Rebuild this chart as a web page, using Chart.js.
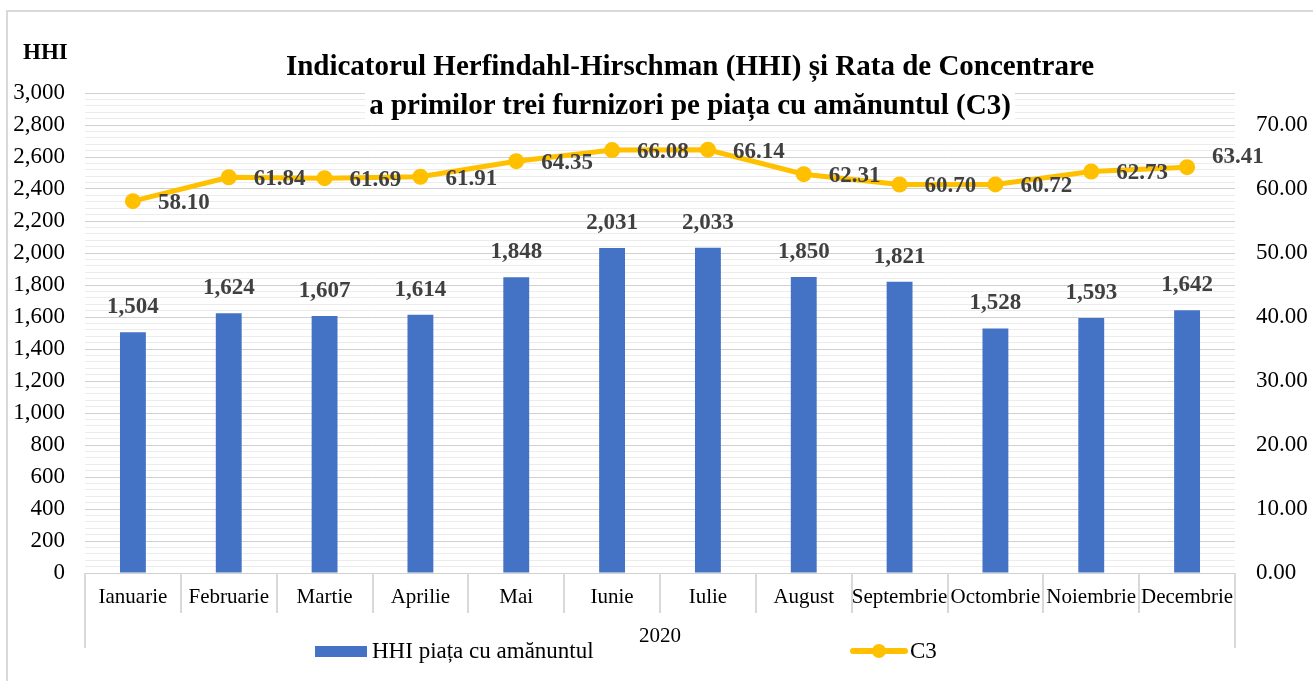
<!DOCTYPE html>
<html>
<head>
<meta charset="utf-8">
<script src="https://cdn.jsdelivr.net/npm/chart.js@4"></script>
<style>
    body { margin: 0; background: #fff; overflow: hidden; font-family: 'Liberation Serif', 'Times New Roman', serif; }
    #wrap { position: relative; width: 1313px; height: 681px; }
    #frame { position: absolute; left: 6px; top: 10px; width: 1320px; height: 700px; border: 2px solid #d9d9d9; box-sizing: border-box; pointer-events: none; }
    #titlu { position: absolute; left: 190px; width: 1000px; top: 46px; text-align: center; font-weight: bold; font-size: 29px; line-height: 39px; color: #000; }
    #titlu span { background: #fff; padding: 0 4px; }
    #hhi { position: absolute; left: 23px; top: 39px; font-weight: bold; font-size: 23px; }
    .leg { position: absolute; top: 637px; font-size: 23px; line-height: 28px; display: flex; align-items: center; }
</style>
</head>
<body>
<div id="wrap">
    <canvas id="grafico-hhi" width="1313" height="681"></canvas>
    <div id="frame"></div>
    <div id="hhi">HHI</div>
    <div id="titlu"><span>Indicatorul Herfindahl-Hirschman (HHI) și Rata de Concentrare</span><br><span>a primilor trei furnizori pe piața cu amănuntul (C3)</span></div>
    <div class="leg" id="leg-bar" style="left:315px"></div>
    <div class="leg" id="leg-linie" style="left:850px"></div>
</div>
<script>
// DADOS DO GRÁFICO
const luni = ['Ianuarie', 'Februarie', 'Martie', 'Aprilie', 'Mai', 'Iunie', 'Iulie', 'August', 'Septembrie', 'Octombrie', 'Noiembrie', 'Decembrie'];
const valori_hhi = [1504, 1624, 1607, 1614, 1848, 2031, 2033, 1850, 1821, 1528, 1593, 1642];
const valori_c3 = [58.10, 61.84, 61.69, 61.91, 64.35, 66.08, 66.14, 62.31, 60.70, 60.72, 62.73, 63.41];
const eticheta_an = '2020';
const nume_hhi = 'HHI piața cu amănuntul';
const nume_c3 = 'C3';

const FONT = "'Liberation Serif', 'Times New Roman', serif";
const AZUL = '#4472C4';
const GALBEN = '#FFC000';

// ETICHETE DE VALORI
const pluginEtichete = {
    id: 'etichete',
    afterDatasetsDraw(chart) {
        const ctx = chart.ctx;
        ctx.save();
        ctx.font = 'bold 23px ' + FONT;
        ctx.fillStyle = '#404040';
        ctx.textBaseline = 'middle';

        let bare = chart.getDatasetMeta(1).data;
        ctx.textAlign = 'center';
        bare.forEach((b, i) => {
            ctx.fillText(valori_hhi[i].toLocaleString('en-US'), b.x, b.y - 25);
        });

        let puncte = chart.getDatasetMeta(0).data;
        ctx.textAlign = 'left';
        puncte.forEach((p, i) => {
            // ultima eticheta e ridicata putin, ca in original
            let dy = (i === puncte.length - 1) ? -10 : 2;
            ctx.fillText(valori_c3[i].toFixed(2), p.x + 25, p.y + dy);
        });
        ctx.restore();
    }
};

// LINII DE SEPARARE PE AXA X
const pluginSeparatori = {
    id: 'separatori',
    afterDraw(chart) {
        const x = chart.scales.x;
        const ctx = chart.ctx;
        const n = luni.length;
        const w = (x.right - x.left) / n;
        ctx.save();
        ctx.strokeStyle = '#d9d9d9';
        ctx.lineWidth = 2;
        for (let i = 0; i <= n; i++) {
            let xx = Math.round(x.left + i * w);
            let lung = (i === 0 || i === n) ? 75 : 40;
            ctx.beginPath();
            ctx.moveTo(xx, x.top);
            ctx.lineTo(xx, x.top + lung);
            ctx.stroke();
        }
        ctx.restore();
    }
};

function gerarGrafico() {
    let ctx = document.getElementById('grafico-hhi').getContext('2d');

    let data = {
        labels: luni,
        datasets: [
            {
                type: 'line',
                label: nume_c3,
                data: valori_c3,
                yAxisID: 'y1',
                borderColor: GALBEN,
                backgroundColor: GALBEN,
                borderWidth: 5,
                pointRadius: 8,
                pointBorderWidth: 0,
                pointBackgroundColor: GALBEN,
                tension: 0,
                order: 0
            },
            {
                type: 'bar',
                label: nume_hhi,
                data: valori_hhi,
                yAxisID: 'y',
                backgroundColor: AZUL,
                barPercentage: 0.27,
                categoryPercentage: 1,
                order: 1
            }
        ]
    };

    let options = {
        responsive: false,
        animation: false,
        devicePixelRatio: 1,
        layout: { padding: { top: 93, left: 0, right: 0, bottom: 0 } },
        plugins: {
            legend: { display: false },
            tooltip: { enabled: false },
            title: { display: false }
        },
        scales: {
            x: {
                offset: true,
                grid: { display: false, drawTicks: false },
                border: { display: false },
                ticks: {
                    autoSkip: false,
                    maxRotation: 0,
                    padding: 12,
                    color: '#000',
                    font: { family: FONT, size: 21 }
                },
                title: {
                    display: true,
                    text: eticheta_an,
                    color: '#000',
                    font: { family: FONT, size: 21 },
                    padding: { top: 0, bottom: 32 }
                },
                afterFit(scale) { scale.height = 108; }
            },
            y: {
                position: 'left',
                min: 0,
                max: 3000,
                ticks: {
                    stepSize: 40,
                    autoSkip: false,
                    padding: 20,
                    color: '#000',
                    font: { family: FONT, size: 23 },
                    callback: v => v % 200 === 0 ? v.toLocaleString('en-US') : ''
                },
                grid: {
                    drawTicks: false,
                    color: c => (c.tick && c.tick.value % 200 === 0) ? '#d0d0d0' : '#ececec',
                    lineWidth: 1
                },
                border: { display: false },
                afterFit(scale) { scale.width = 85; }
            },
            y1: {
                position: 'right',
                min: 0,
                max: 75,
                ticks: {
                    stepSize: 10,
                    padding: 21,
                    color: '#000',
                    font: { family: FONT, size: 23 },
                    callback: v => v % 10 === 0 ? v.toFixed(2) : ''
                },
                grid: { display: false, drawTicks: false },
                border: { display: false },
                afterFit(scale) { scale.width = 78; }
            }
        }
    };

    new Chart(ctx, {
        data: data,
        options: options,
        plugins: [pluginEtichete, pluginSeparatori]
    });
}

// LEGENDA
function gerarLegenda() {
    document.getElementById('leg-bar').innerHTML =
        '<span style="display:inline-block;width:52px;height:11px;background:' + AZUL + ';margin-right:5px"></span>' + nume_hhi;
    document.getElementById('leg-linie').innerHTML =
        '<span style="position:relative;display:inline-block;width:58px;height:28px;margin-right:2px">' +
        '<span style="position:absolute;left:0;top:11px;width:58px;height:6px;border-radius:3px;background:' + GALBEN + '"></span>' +
        '<span style="position:absolute;left:22px;top:7px;width:14px;height:14px;border-radius:7px;background:' + GALBEN + '"></span>' +
        '</span>' + nume_c3;
}

gerarGrafico();
gerarLegenda();
</script>
</body>
</html>
